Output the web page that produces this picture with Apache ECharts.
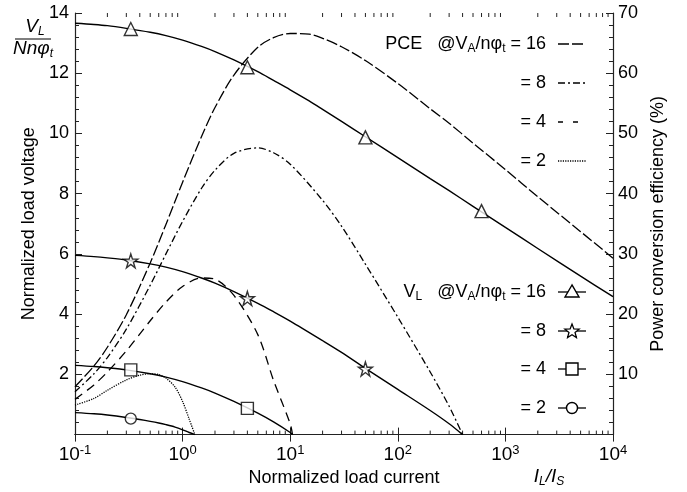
<!DOCTYPE html>
<html>
<head>
<meta charset="utf-8">
<script src="https://cdn.jsdelivr.net/npm/echarts@6/dist/echarts.min.js"></script>
<style>
  html, body { margin: 0; padding: 0; background: #fff; }
  #chart { width: 687px; height: 492px; }
</style>
</head>
<body>
<div id="chart"></div>
<script>
/* data: x = I_L/I_S, VL normalized, PCE in % */
var loadCurrent16 = [0.1, 0.15, 0.2, 0.3, 0.5, 0.7, 1, 1.5, 2, 3, 5, 7, 10, 15, 20, 30, 50, 100, 200, 300, 500, 1000, 2000, 5000, 10000];
var vl16  = [13.66, 13.62, 13.58, 13.49, 13.36, 13.25, 13.10, 12.89, 12.72, 12.44, 12.05, 11.76, 11.45, 11.08, 10.80, 10.40, 9.89, 9.20, 8.50, 8.10, 7.58, 6.88, 6.18, 5.26, 4.58];
var pce16 = [7.95, 11.4, 14.5, 19.9, 28.5, 34.9, 41.9, 49.5, 54.3, 59.7, 64.3, 65.9, 66.6, 66.5, 65.8, 64.4, 62.1, 58.3, 54.1, 51.7, 48.4, 44.0, 39.5, 33.7, 29.3];

var loadCurrent8 = [0.1, 0.15, 0.2, 0.3, 0.5, 0.7, 1, 1.5, 2, 3, 5, 7, 10, 20, 30, 50, 100, 200, 300, 400];
var vl8  = [5.95, 5.91, 5.87, 5.80, 5.67, 5.56, 5.41, 5.20, 5.03, 4.75, 4.36, 4.08, 3.77, 3.12, 2.73, 2.20, 1.50, 0.80, 0.36, 0];
var pce8 = [7.1, 10.1, 12.8, 17.5, 24.8, 30.0, 35.4, 40.9, 43.9, 46.7, 47.6, 46.8, 44.9, 38.9, 34.6, 28.3, 19.5, 10.4, 4.7, 0];

var loadCurrent4 = [0.1, 0.15, 0.2, 0.3, 0.5, 0.7, 1, 1.5, 2, 3, 5, 7, 10, 10.5];
var vl4  = [2.30, 2.26, 2.22, 2.15, 2.02, 1.91, 1.76, 1.55, 1.38, 1.10, 0.71, 0.42, 0.07, 0];
var pce4 = [5.85, 8.25, 10.4, 13.9, 18.9, 22.0, 24.6, 26.0, 25.8, 23.1, 16.6, 9.0, 1.8, 0];

var loadCurrent2 = [0.1, 0.15, 0.2, 0.3, 0.4, 0.5, 0.6, 0.7, 0.85, 1, 1.15, 1.3];
var vl2  = [0.73, 0.69, 0.65, 0.57, 0.50, 0.44, 0.385, 0.33, 0.25, 0.16, 0.07, 0];
var pce2 = [4.9, 6.0, 7.36, 9.08, 9.86, 10.1, 9.96, 9.38, 7.9, 5.5, 2.6, 0];

/* marker positions on the VL curves */
var mark16X = [0.33, 4, 50, 600];
var mark16V = [13.47, 12.20, 9.87, 7.42];
var mark8X = [0.33, 4, 50];
var mark8V = [5.77, 4.52, 2.18];
var mark4X = [0.33, 4];
var mark4V = [2.15, 0.87];
var mark2X = [0.33];
var mark2V = [0.53];

var leftTicks = [0, 2, 4, 6, 8, 10, 12, 14];
var rightTicks = [0, 10, 20, 30, 40, 50, 60, 70];

var FONT = 'Liberation Sans';
var STAR = 'path://M50,2 L61,36 L97,36 L68,57 L79,92 L50,70 L21,92 L32,57 L3,36 L39,36 Z';

function pairs(xs, ys) {
    return xs.map(function (x, i) { return [x, ys[i]]; });
}

/* minor ticks of the log axis: 2..9 in every decade */
var minorTicks = [];
for (var e = -1; e < 4; e++) {
    for (var m = 2; m <= 9; m++) {
        minorTicks.push([m * Math.pow(10, e), 0]);
    }
}

/* star glyph for the legend */
function starPoints(cx, cy, ro, ri) {
    var pts = [];
    for (var k = 0; k < 10; k++) {
        var r = k % 2 === 0 ? ro : ri;
        var a = -Math.PI / 2 + k * Math.PI / 5;
        pts.push([cx + r * Math.cos(a), cy + r * Math.sin(a)]);
    }
    return pts;
}

var box = document.getElementById('chart');
var myChart = echarts.init(box);

function vlLine(name, xs, ys) {
    return {
        name: name, type: 'line', xAxisIndex: 0, yAxisIndex: 0,
        data: pairs(xs, ys), showSymbol: false, smooth: 0.3,
        lineStyle: { color: '#000', width: 1.4 }, z: 3, silent: true
    };
}
function pceLine(name, xs, ys, dash) {
    return {
        name: name, type: 'line', xAxisIndex: 0, yAxisIndex: 1,
        data: pairs(xs, ys), showSymbol: false, smooth: 0.3,
        lineStyle: { color: '#000', width: 1.3, type: dash }, z: 2, silent: true
    };
}
function markers(name, xs, ys, symbol, size) {
    return {
        name: name, type: 'scatter', xAxisIndex: 0, yAxisIndex: 0,
        data: pairs(xs, ys), symbol: symbol, symbolSize: size,
        itemStyle: { color: '#fff', borderColor: '#000', borderWidth: 1.4 }, z: 5, silent: true
    };
}

var legRich = {
    n: { fontSize: 18, fontFamily: FONT, color: '#000' },
    s: { fontSize: 12, fontFamily: FONT, color: '#000', verticalAlign: 'bottom', padding: [9, 0, 0, 0] }
};
var itRich = {
    i: { fontSize: 19, fontStyle: 'italic', fontFamily: FONT, color: '#000' },
    si: { fontSize: 12, fontStyle: 'italic', fontFamily: FONT, color: '#000', verticalAlign: 'bottom', padding: [9, 0, 0, 0] }
};

function legText(x, y, txt) {
    return {
        type: 'text', x: x, y: y, z: 10,
        style: { text: txt, rich: legRich, align: 'right', verticalAlign: 'middle', fontFamily: FONT, fontSize: 18, fill: '#000' }
    };
}
function legLine(y, dash) {
    return {
        type: 'line', z: 10,
        shape: { x1: 558, y1: y, x2: 586, y2: y },
        style: { stroke: '#000', lineWidth: 1.3, lineDash: dash }
    };
}

var graphics = [
    /* y axis fraction label */
    { type: 'text', x: 35, y: 27, style: { text: '{i|V}{si|L}', rich: itRich, align: 'center', verticalAlign: 'middle' } },
    { type: 'line', shape: { x1: 15, y1: 39, x2: 51, y2: 39 }, style: { stroke: '#000', lineWidth: 1.2 } },
    { type: 'text', x: 33, y: 49, style: { text: '{i|Nnφ}{si|t}', rich: itRich, align: 'center', verticalAlign: 'middle' } },
    /* x axis unit */
    { type: 'text', x: 549, y: 477, style: { text: '{i|I}{si|L}{i|/I}{si|S}', rich: itRich, align: 'center', verticalAlign: 'middle' } },

    /* PCE legend */
    legText(546, 44, '{n|PCE   @V}{s|A}{n|/nφ}{s|t}{n| = 16}'),
    legLine(44, [11, 3]),
    legText(546, 83, '{n|= 8}'),
    legLine(83, [7, 3, 2, 3]),
    legText(546, 122, '{n|= 4}'),
    legLine(122, [5, 10]),
    legText(546, 161, '{n|= 2}'),
    legLine(161, [1.2, 1.2]),

    /* VL legend */
    legText(546, 292, '{n|V}{s|L}{n|   @V}{s|A}{n|/nφ}{s|t}{n| = 16}'),
    legLine(292, null),
    legText(546, 331, '{n|= 8}'),
    legLine(331, null),
    legText(546, 369, '{n|= 4}'),
    legLine(369, null),
    legText(546, 408, '{n|= 2}'),
    legLine(408, null),
    { type: 'polygon', z: 11, shape: { points: [[572, 285], [565, 297], [579, 297]] },
      style: { fill: '#fff', stroke: '#000', lineWidth: 1.4 } },
    { type: 'polygon', z: 11, shape: { points: starPoints(572, 331.5, 7.5, 3.2) },
      style: { fill: '#fff', stroke: '#000', lineWidth: 1.3 } },
    { type: 'rect', z: 11, shape: { x: 566, y: 363, width: 12, height: 12 },
      style: { fill: '#fff', stroke: '#000', lineWidth: 1.4 } },
    { type: 'circle', z: 11, shape: { cx: 572, cy: 408, r: 5.5 },
      style: { fill: '#fff', stroke: '#000', lineWidth: 1.4 } }
];

var axisLineStyle = { lineStyle: { color: '#222', width: 1.2 } };

var option = {
    animation: false,
    backgroundColor: '#fff',
    grid: { left: 75, right: 74, top: 13, bottom: 57 },
    xAxis: [
        {
            type: 'log', logBase: 10, min: 0.1, max: 10000, position: 'bottom',
            axisLine: axisLineStyle,
            axisTick: { inside: true, length: 7, lineStyle: { color: '#222' } },
            splitLine: { show: false },
            axisLabel: {
                margin: 9,
                formatter: function (v) {
                    return '{b|10}{s|' + Math.round(Math.log10(v)) + '}';
                },
                rich: {
                    b: { fontSize: 19, fontFamily: FONT, color: '#000' },
                    s: { fontSize: 13, fontFamily: FONT, color: '#000', verticalAlign: 'top', padding: [0, 0, 9, 0] }
                }
            },
            name: 'Normalized load current', nameLocation: 'middle', nameGap: 34,
            nameTextStyle: { fontSize: 18, fontFamily: FONT, color: '#000' }
        },
        {
            type: 'log', logBase: 10, min: 0.1, max: 10000, position: 'top',
            axisLine: axisLineStyle,
            axisTick: { inside: true, length: 7, lineStyle: { color: '#222' } },
            axisLabel: { show: false }, splitLine: { show: false }
        }
    ],
    yAxis: [
        {
            type: 'value', min: leftTicks[0], max: leftTicks[leftTicks.length - 1], interval: 2,
            position: 'left',
            axisLine: { show: true, lineStyle: { color: '#222', width: 1.2 } },
            axisTick: { inside: true, length: 7, lineStyle: { color: '#222' } },
            minorTick: { show: true, splitNumber: 5, length: 4, lineStyle: { color: '#222' } },
            splitLine: { show: false },
            axisLabel: { fontSize: 18, fontFamily: FONT, color: '#000', margin: 6,
                formatter: function (v) { return v === 0 ? '' : v; } },
            name: 'Normalized load voltage', nameLocation: 'middle', nameGap: 36, nameRotate: 90,
            nameTextStyle: { fontSize: 18, fontFamily: FONT, color: '#000' }
        },
        {
            type: 'value', min: rightTicks[0], max: rightTicks[rightTicks.length - 1], interval: 10,
            position: 'right',
            axisLine: { show: true, lineStyle: { color: '#222', width: 1.2 } },
            axisTick: { inside: true, length: 7, lineStyle: { color: '#222' } },
            minorTick: { show: true, splitNumber: 5, length: 4, lineStyle: { color: '#222' } },
            splitLine: { show: false },
            axisLabel: { fontSize: 18, fontFamily: FONT, color: '#000', margin: 5,
                formatter: function (v) { return v === 0 ? '' : v; } },
            name: 'Power conversion efficiency (%)', nameLocation: 'middle', nameGap: 31, nameRotate: 90,
            nameTextStyle: { fontSize: 18, fontFamily: FONT, color: '#000' }
        }
    ],
    graphic: graphics,
    series: [
        {
            name: 'minor', type: 'custom', xAxisIndex: 0, yAxisIndex: 0, silent: true, z: 1,
            data: minorTicks,
            renderItem: function (params, api) {
                var v = api.value(0);
                var p0 = api.coord([v, 0]);
                var p1 = api.coord([v, 14]);
                var st = { stroke: '#222', lineWidth: 1 };
                return {
                    type: 'group',
                    children: [
                        { type: 'line', shape: { x1: p0[0], y1: p0[1], x2: p0[0], y2: p0[1] - 4 }, style: st },
                        { type: 'line', shape: { x1: p1[0], y1: p1[1], x2: p1[0], y2: p1[1] + 4 }, style: st }
                    ]
                };
            }
        },
        pceLine('PCE 16', loadCurrent16, pce16, [11, 3]),
        pceLine('PCE 8', loadCurrent8, pce8, [7, 3, 2, 3]),
        pceLine('PCE 4', loadCurrent4, pce4, [9, 6]),
        pceLine('PCE 2', loadCurrent2, pce2, [1.2, 1.2]),
        vlLine('VL 16', loadCurrent16, vl16),
        vlLine('VL 8', loadCurrent8, vl8),
        vlLine('VL 4', loadCurrent4, vl4),
        vlLine('VL 2', loadCurrent2, vl2),
        markers('VL 16 mark', mark16X, mark16V, 'triangle', 13),
        markers('VL 8 mark', mark8X, mark8V, STAR, 14),
        markers('VL 4 mark', mark4X, mark4V, 'rect', 12),
        markers('VL 2 mark', mark2X, mark2V, 'circle', 11)
    ]
};

myChart.setOption(option);
</script>
</body>
</html>
